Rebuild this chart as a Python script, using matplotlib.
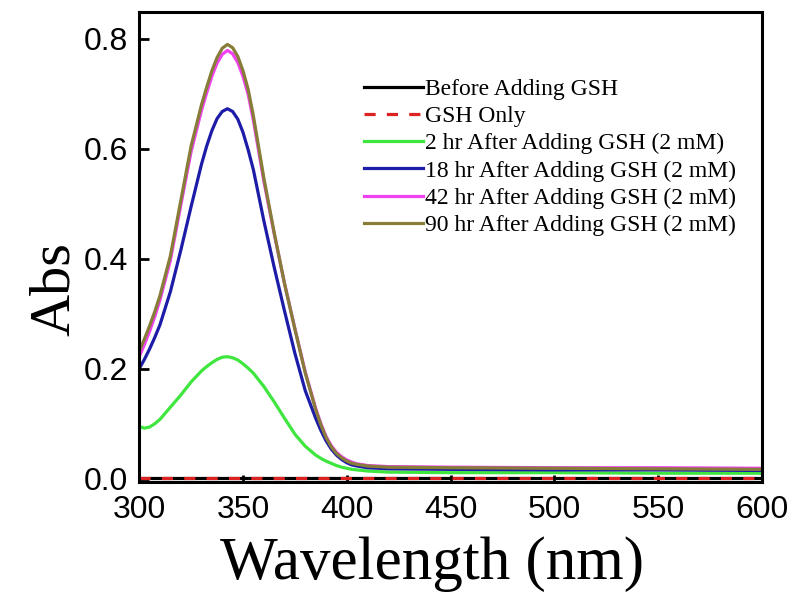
import matplotlib
matplotlib.use("Agg")
import matplotlib.pyplot as plt

# ---- data ----
wl_base = [300, 350, 400, 450, 500, 550, 600]
before_gsh = [0.001, 0.001, 0.001, 0.001, 0.001, 0.001, 0.001]
gsh_only = [0.002, 0.002, 0.002, 0.002, 0.002, 0.002, 0.002]

wl = [300, 302.5, 305, 307.5, 310, 315, 320, 325, 330, 332.5, 335, 337.5,
      340, 342.5, 345, 347.5, 350, 352.5, 355, 360, 365, 370, 375, 380, 385,
      387.5, 390, 392.5, 395, 397.5, 400, 402.5, 405, 410, 420, 450, 500,
      550, 600]

hr2 = [0.095, 0.092, 0.094, 0.100, 0.108, 0.130, 0.152, 0.176, 0.196, 0.204,
       0.211, 0.217, 0.221, 0.222, 0.220, 0.216, 0.209, 0.201, 0.192, 0.168,
       0.140, 0.110, 0.081, 0.059, 0.043, 0.037, 0.032, 0.028, 0.024, 0.021,
       0.019, 0.017, 0.016, 0.014, 0.012, 0.011, 0.011, 0.010, 0.010]

hr18 = [0.200, 0.217, 0.236, 0.257, 0.280, 0.340, 0.415, 0.495, 0.572, 0.605,
        0.633, 0.655, 0.668, 0.673, 0.668, 0.654, 0.630, 0.598, 0.562, 0.470,
        0.385, 0.305, 0.228, 0.160, 0.110, 0.088, 0.069, 0.054, 0.043, 0.035,
        0.029, 0.025, 0.023, 0.020, 0.018, 0.017, 0.016, 0.016, 0.015]

hr42 = [0.222, 0.244, 0.268, 0.295, 0.325, 0.397, 0.497, 0.595, 0.670, 0.702,
        0.732, 0.756, 0.772, 0.779, 0.773, 0.757, 0.732, 0.699, 0.652, 0.542,
        0.446, 0.355, 0.273, 0.194, 0.128, 0.100, 0.077, 0.060, 0.048, 0.040,
        0.034, 0.030, 0.027, 0.024, 0.022, 0.021, 0.020, 0.020, 0.019]

hr90 = [0.232, 0.254, 0.278, 0.304, 0.333, 0.405, 0.505, 0.605, 0.680, 0.712,
        0.742, 0.766, 0.783, 0.790, 0.784, 0.768, 0.742, 0.708, 0.660, 0.548,
        0.448, 0.355, 0.272, 0.192, 0.126, 0.098, 0.075, 0.058, 0.046, 0.038,
        0.032, 0.028, 0.026, 0.023, 0.021, 0.020, 0.019, 0.018, 0.017]

labels = ["Before Adding GSH", "GSH Only",
          "2 hr After Adding GSH (2 mM)", "18 hr After Adding GSH (2 mM)",
          "42 hr After Adding GSH (2 mM)", "90 hr After Adding GSH (2 mM)"]

xticks = [300, 350, 400, 450, 500, 550, 600]
yticks = [0.0, 0.2, 0.4, 0.6, 0.8]

# ---- figure ----
fig = plt.figure(figsize=(8.0, 5.99), dpi=100)
ax = fig.add_axes([0.174, 0.1953, 0.7785, 0.7847])

lw = 2.3
ax.plot(wl_base, before_gsh, color="black", lw=lw, label=labels[0])
ax.plot(wl_base, gsh_only, color="#dd2222", lw=lw, ls=(0, (3.5, 3.5)),
        label=labels[1])
ax.plot(wl, hr2, color="#3ee63e", lw=lw, label=labels[2])
ax.plot(wl, hr18, color="#1c1ca8", lw=lw, label=labels[3])
ax.plot(wl, hr42, color="#f040f0", lw=lw, label=labels[4])
ax.plot(wl, hr90, color="#877c38", lw=lw, label=labels[5])

ax.set_xlim(300, 600)
ax.set_ylim(-0.006, 0.849)
ax.set_xticks(xticks)
ax.set_yticks(yticks)
ax.set_yticklabels([f"{v:.1f}" for v in yticks])

for s in ax.spines.values():
    s.set_linewidth(2.2)

ax.tick_params(axis="x", direction="in", length=5, width=2, pad=9,
               labelsize=23, labelfontfamily="Liberation Sans")
ax.tick_params(axis="y", direction="in", length=7, width=2, pad=8,
               labelsize=23, labelfontfamily="Liberation Sans")

ax.set_xlabel("Wavelength (nm)", fontfamily="Liberation Serif", fontsize=44)
ax.set_ylabel("Abs", fontfamily="Liberation Serif", fontsize=42)
ax.xaxis.set_label_coords(0.47, -0.116)
ax.yaxis.set_label_coords(-0.093, 0.41)

leg = fig.legend(loc="upper left", bbox_to_anchor=(0.455, 0.869),
                 frameon=False, prop={"family": "Liberation Serif", "size": 17},
                 handlelength=2.5, handletextpad=0.1, labelspacing=0.24,
                 borderpad=0, borderaxespad=0)

fig.savefig("out.png", dpi=100)
